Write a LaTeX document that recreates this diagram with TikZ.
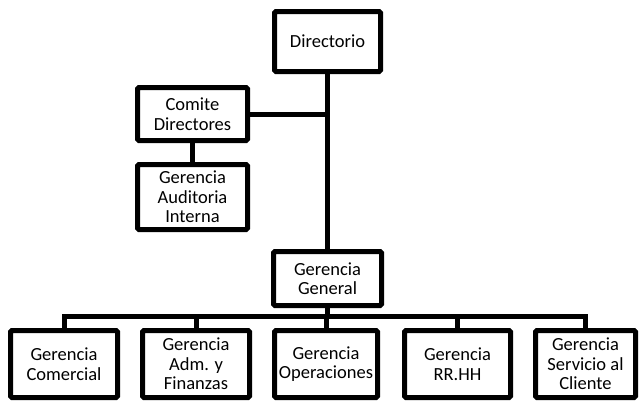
\documentclass[tikz,border=0pt]{standalone}
\usepackage{fontspec}
\setmainfont{Carlito}
\begin{document}
\begin{tikzpicture}[x=1pt,y=-1pt,
  box/.style={draw=black, line width=5pt, rounded corners=1.5pt, fill=white, align=center,
    inner sep=0pt, font=\fontsize{18.5}{19.5}\selectfont, text=black},
  link/.style={draw=black, line width=5pt}]
\useasboundingbox (0,0) rectangle (639,402);
\node[box, minimum width=106pt, minimum height=60pt] (dir) at (327.5,41.5) {Directorio};
\node[box, minimum width=110pt, minimum height=53pt] (com) at (192.5,114) {Comite\\Directores};
\node[box, minimum width=110pt, minimum height=65pt] (aud) at (192.5,197) {Gerencia\\Auditoria\\Interna};
\node[box, minimum width=108pt, minimum height=54pt] (gg) at (327.5,278.5) {Gerencia\\General};
\node[box, minimum width=107pt, minimum height=67pt] (b1) at (64,364) {Gerencia\\Comercial};
\node[box, minimum width=107pt, minimum height=67pt] (b2) at (196,364) {Gerencia\\Adm. y\\Finanzas};
\node[box, minimum width=103pt, minimum height=67pt] (b3) at (326,364) {Gerencia\\Operaciones};
\node[box, minimum width=106pt, minimum height=67pt] (b4) at (457.5,364) {Gerencia\\RR.HH};
\node[box, minimum width=100pt, minimum height=67pt] (b5) at (585.5,364) {Gerencia\\Servicio al\\Cliente};
\coordinate (bus) at (327.5,316);
\path[link] (dir.south) -- (gg.north);
\path[link] (com.east) -- (com.east -| dir.south);
\path[link] (com.south) -- (aud.north);
\path[link] (gg.south) -- (bus);
\path[link] (b1.north) -- (b1.north |- bus) -- (b5.north |- bus) -- (b5.north);
\path[link] (b2.north) -- (b2.north |- bus);
\path[link] (b3.north) -- (b3.north |- bus);
\path[link] (b4.north) -- (b4.north |- bus);
\end{tikzpicture}
\end{document}
